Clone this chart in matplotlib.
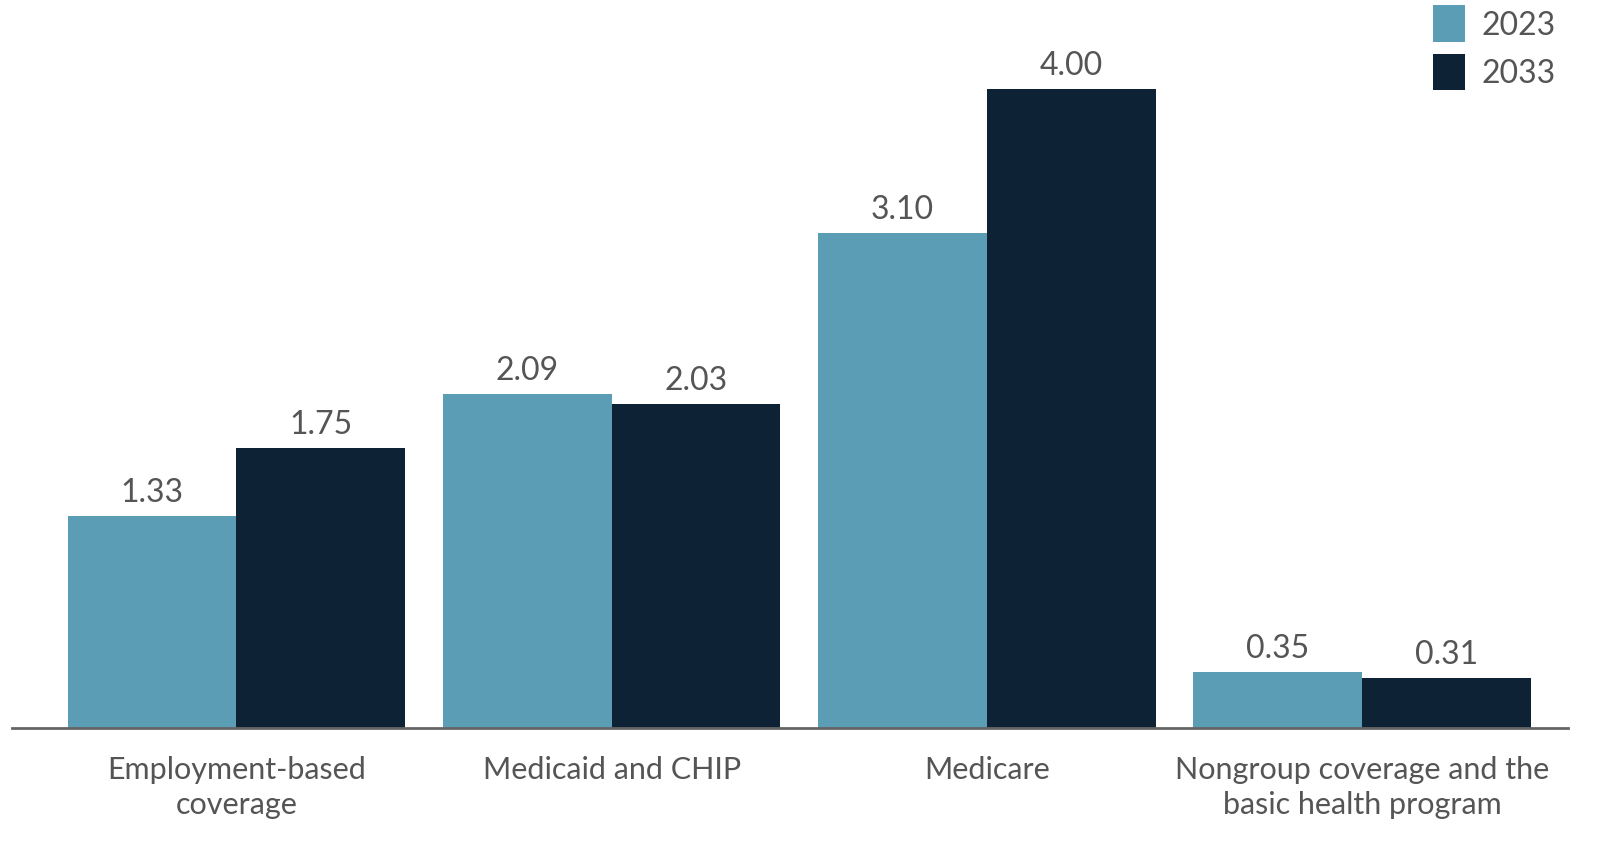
import matplotlib.pyplot as plt
import numpy as np

plt.rcParams['font.family'] = ['Lato', 'DejaVu Sans']

categories = ["Employment-based\ncoverage", "Medicaid and CHIP", "Medicare",
              "Nongroup coverage and the\nbasic health program"]
series_names = ["2023", "2033"]
values_2023 = [1.33, 2.09, 3.10, 0.35]
values_2033 = [1.75, 2.03, 4.00, 0.31]

teal = "#5b9db5"
navy = "#0e2236"
text_gray = "#555555"


def main():
    fig = plt.figure(figsize=(16.19, 8.5), dpi=100)
    ax = fig.add_axes([12 / 1619, 122 / 850, 1556 / 1619, 728 / 850])

    x = np.arange(len(categories))
    w = 0.45
    b1 = ax.bar(x - w / 2, values_2023, w, color=teal, label=series_names[0])
    b2 = ax.bar(x + w / 2, values_2033, w, color=navy, label=series_names[1])

    for bars, vals in [(b1, values_2023), (b2, values_2033)]:
        for rect, v in zip(bars, vals):
            ax.text(rect.get_x() + rect.get_width() / 2, v + 0.05, f"{v:.2f}",
                    ha="center", va="bottom", fontsize=23, color=text_gray)

    ax.set_xlim(-0.598, 3.549)
    ax.set_ylim(0, 4.557)
    ax.set_yticks([])
    ax.set_xticks(x)
    ax.set_xticklabels(categories, fontsize=22, color=text_gray, linespacing=1.3)
    ax.tick_params(axis="x", length=0, pad=20)
    for s in ["top", "right", "left"]:
        ax.spines[s].set_visible(False)
    ax.spines["bottom"].set_color("#666666")
    ax.spines["bottom"].set_linewidth(2)

    leg = ax.legend(loc="upper right", bbox_to_anchor=(1.0, 1.01), frameon=False,
                    fontsize=23, handlelength=1.0, handleheight=1.4,
                    handletextpad=0.5, labelspacing=0.35, borderaxespad=0)
    for t in leg.get_texts():
        t.set_color(text_gray)

    fig.savefig("out.png", dpi=100)


if __name__ == "__main__":
    main()
